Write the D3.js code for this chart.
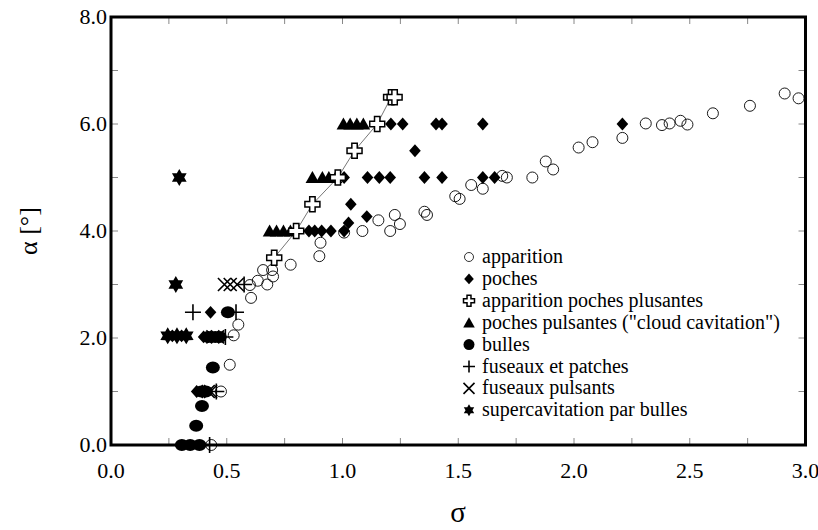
<!DOCTYPE html>
<html><head><meta charset="utf-8">
<script src="https://cdn.jsdelivr.net/npm/d3@7"></script>
<style>
body{margin:0;background:#fff;}
</style></head>
<body><svg id="c" width="818" height="530" font-family="'Liberation Serif', 'Times New Roman', Times, serif"></svg>
<script>
// ---- data ----
const xTicks = [0, 0.5, 1.0, 1.5, 2.0, 2.5, 3.0];
const yTicks = [0, 2, 4, 6, 8];
const legendLabels = ["apparition","poches","apparition poches plusantes","poches pulsantes (\"cloud cavitation\")","bulles","fuseaux et patches","fuseaux pulsants","supercavitation par bulles"];

const apparition = [[0.433,0],[0.475,1.0],[0.513,1.5],[0.53,2.05],[0.55,2.25],[0.605,2.75],[0.60,2.99],[0.634,3.07],[0.675,3.0],[0.657,3.27],[0.696,3.27],[0.70,3.15],[0.776,3.37],[0.90,3.53],[0.905,3.78],[1.007,3.97],[1.086,4.0],[1.155,4.2],[1.206,4.0],[1.226,4.3],[1.248,4.13],[1.354,4.36],[1.365,4.3],[1.487,4.65],[1.506,4.6],[1.556,4.86],[1.606,4.79],[1.69,5.03],[1.71,5.0],[1.82,5.0],[1.878,5.3],[1.91,5.15],[2.02,5.56],[2.08,5.66],[2.209,5.74],[2.31,6.01],[2.38,5.98],[2.413,6.01],[2.46,6.06],[2.49,5.99],[2.60,6.2],[2.76,6.34],[2.91,6.57],[2.97,6.48]];
const poches = [[1.209,6],[1.26,6],[1.404,6],[1.43,6],[1.606,6],[2.209,6],[1.313,5.5],[1.007,5],[1.108,5],[1.159,5],[1.206,5],[1.354,5],[1.43,5],[1.606,5],[1.657,5],[1.036,4.5],[1.105,4.27],[1.026,4.15],[0.855,4],[0.88,4],[0.91,4],[0.95,4],[1.007,4],[0.43,2.48],[0.265,2.04],[0.305,2.04],[0.40,2.02],[0.43,2.02],[0.37,1.0]];
const appPochesPuls = [[0.705,3.5],[0.80,4.0],[0.87,4.5],[0.98,5.0],[1.052,5.5],[1.15,6.0],[1.21,6.5],[1.225,6.5]];
const pochesPuls = [[1.004,6],[1.033,6],[1.062,6],[1.09,6],[0.87,5],[0.913,5],[0.941,5],[0.97,5],[0.685,4],[0.715,4],[0.745,4],[0.775,4]];
const bulles = [[0.306,0],[0.342,0],[0.382,0],[0.368,0.36],[0.393,0.73],[0.39,1.0],[0.41,1.0],[0.44,1.45],[0.42,2.02],[0.45,2.02],[0.47,2.02],[0.505,2.48]];
const fuseaux = [[0.426,0],[0.455,1.0],[0.354,2.48],[0.54,2.48],[0.494,2.02],[0.575,3.0]];
const fuseauxPuls = [[0.49,3.0],[0.515,3.0],[0.545,3.0],[0.44,2.02],[0.46,2.02],[0.42,1.0],[0.43,1.0]];
const supercav = [[0.295,5.0],[0.28,3.0],[0.245,2.04],[0.285,2.04],[0.325,2.04]];

// ---- layout ----
const svg = d3.select("#c");
const L=111, R=805.5, T=17, B=445;
const x = d3.scaleLinear().domain([0,3]).range([L,R]);
const y = d3.scaleLinear().domain([0,8]).range([B,T]);

// ticks (inside, gray) on all four sides
const xt = d3.range(0,3.001,0.25), yt = d3.range(0,8.001,1);
const tk = svg.append("g").attr("stroke","#888").attr("stroke-width",1);
xt.forEach(v=>{ tk.append("line").attr("x1",x(v)).attr("x2",x(v)).attr("y1",B).attr("y2",B-7);
                tk.append("line").attr("x1",x(v)).attr("x2",x(v)).attr("y1",T).attr("y2",T+7); });
yt.forEach(v=>{ tk.append("line").attr("y1",y(v)).attr("y2",y(v)).attr("x1",L).attr("x2",L+7);
                tk.append("line").attr("y1",y(v)).attr("y2",y(v)).attr("x1",R).attr("x2",R-7); });

// tick labels
svg.append("g").selectAll("text").data(xTicks).join("text")
  .attr("x",d=>x(d)).attr("y",478).attr("text-anchor","middle").attr("font-size",22)
  .text(d=>d3.format(".1f")(d));
svg.append("g").selectAll("text").data(yTicks).join("text")
  .attr("x",L-4).attr("y",d=>y(d)+7).attr("text-anchor","end").attr("font-size",22)
  .text(d=>d3.format(".1f")(d));

// axis titles
svg.append("text").attr("x",458).attr("y",522).attr("text-anchor","middle").attr("font-size",29).text("σ");
svg.append("text").attr("transform","translate(37,231) rotate(-90)").attr("text-anchor","middle").attr("font-size",26).text("α [°]");

// marker shapes
const shapes = {
  circle: r=>`M${r},0A${r},${r} 0 1,1 ${-r},0A${r},${r} 0 1,1 ${r},0Z`,
  diamond: s=>`M0,${-s*1.1}L${s},0L0,${s*1.1}L${-s},0Z`,
  triangle: s=>`M0,${-s}L${s*1.05},${s*0.85}L${-s*1.05},${s*0.85}Z`,
  oplus: s=>{const a=s*0.36; return `M${-a},${-s}H${a}V${-a}H${s}V${a}H${a}V${s}H${-a}V${a}H${-s}V${-a}H${-a}Z`;},
  plus: s=>`M${-s},0H${s}M0,${-s}V${s}`,
  xmark: s=>`M${-s},${-s}L${s},${s}M${-s},${s}L${s},${-s}`,
  star: s=>{let p=[];for(let i=0;i<12;i++){const r=i%2?s*0.58:s;const a=Math.PI/6*i-Math.PI/2;p.push([r*Math.cos(a),r*Math.sin(a)]);}return "M"+p.map(q=>q.join(",")).join("L")+"Z";}
};
const styles = [
  {data:apparition, path:shapes.circle(5.5), fill:"none", stroke:"#000", sw:0.9, lp:shapes.circle(4.5)},
  {data:poches, path:shapes.diamond(5.8), fill:"#000", stroke:"none", sw:0, lp:shapes.diamond(4.8)},
  {data:appPochesPuls, path:shapes.oplus(7.5), fill:"#fff", stroke:"#000", sw:1.5, lp:shapes.oplus(5.5)},
  {data:pochesPuls, path:shapes.triangle(6.5), fill:"#000", stroke:"none", sw:0, lp:shapes.triangle(5.5)},
  {data:bulles, path:"M-7,0A7,6 0 1,1 7,0A7,6 0 1,1 -7,0Z", fill:"#000", stroke:"none", sw:0, lp:shapes.circle(5.5)},
  {data:fuseaux, path:shapes.plus(8), fill:"none", stroke:"#000", sw:1.6, lp:shapes.plus(6)},
  {data:fuseauxPuls, path:shapes.xmark(6.5), fill:"none", stroke:"#000", sw:1.6, lp:shapes.xmark(5.5)},
  {data:supercav, path:shapes.star(8.5), fill:"#000", stroke:"none", sw:0, lp:shapes.star(6)}
];

// trend line through apparition poches pulsantes
svg.append("path").datum(appPochesPuls.slice().sort((a,b)=>a[1]-b[1]))
  .attr("d",d3.line().x(d=>x(d[0])).y(d=>y(d[1])))
  .attr("fill","none").attr("stroke","#777").attr("stroke-width",1);

// marks
const drawOrder=[0,1,3,4,5,6,7,2];
drawOrder.forEach(i=>{
  const s=styles[i];
  svg.append("g").selectAll("path").data(s.data).join("path")
    .attr("transform",d=>`translate(${x(d[0])},${y(d[1])})`)
    .attr("d",s.path).attr("fill",s.fill).attr("stroke",s.stroke).attr("stroke-width",s.sw);
});

// legend
const lg = svg.append("g");
legendLabels.forEach((lab,i)=>{
  const yy = 257 + i*21.9;
  const s = styles[i];
  lg.append("path").attr("transform",`translate(469,${yy})`).attr("d",s.lp)
    .attr("fill",s.fill).attr("stroke",s.stroke).attr("stroke-width",i===0?0.8:s.sw);
  lg.append("text").attr("x",482).attr("y",yy+6).attr("font-size",20).text(lab);
});

// frame
svg.append("rect").attr("x",L).attr("y",T).attr("width",R-L).attr("height",B-T)
  .attr("fill","none").attr("stroke","#000").attr("stroke-width",3);
</script></body></html>
